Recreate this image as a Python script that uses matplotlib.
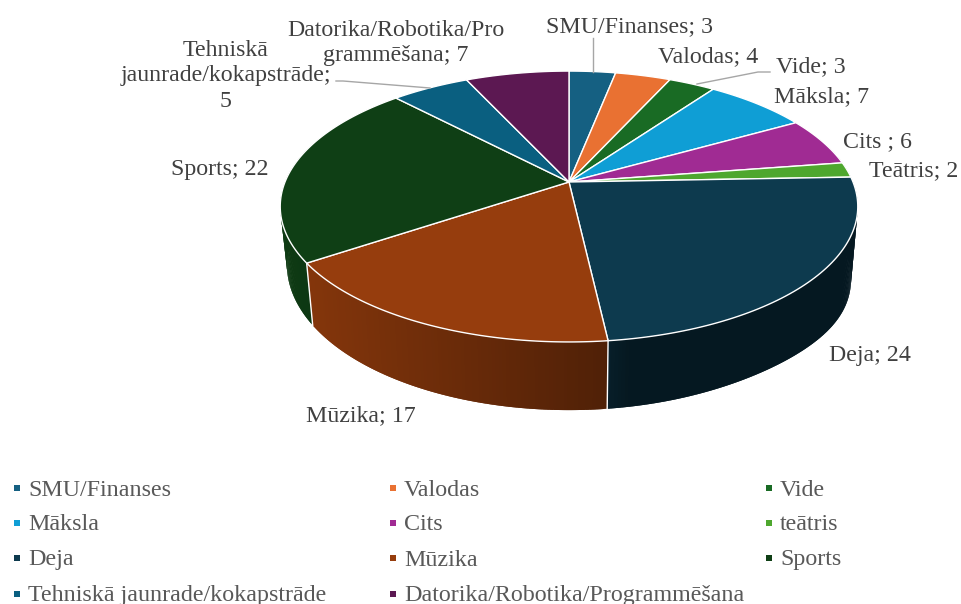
import numpy as np
import matplotlib
matplotlib.use('Agg')
import matplotlib.pyplot as plt

# share of each slice, labels show them rounded
categories = ['SMU/Finanses', 'Valodas', 'Vide', 'Māksla', 'Cits', 'Teātris',
              'Deja', 'Mūzika', 'Sports', 'Tehniskā jaunrade/kokapstrāde',
              'Datorika/Robotika/Programmēšana']
legend_names = ['SMU/Finanses', 'Valodas', 'Vide', 'Māksla', 'Cits', 'teātris',
                'Deja', 'Mūzika', 'Sports', 'Tehniskā jaunrade/kokapstrāde',
                'Datorika/Robotika/Programmēšana']
values = [3.1, 3.7, 3.1, 6.9, 5.8, 1.8, 23.8, 17.4, 22.3, 5.2, 6.9]
colors = ['#156082', '#E97132', '#196B24', '#0F9ED5', '#A02B93', '#4EA72E',
          '#0D3A4E', '#963D0D', '#0F3F15', '#0A5F80', '#5C1852']

plt.rcParams['font.family'] = ['Liberation Serif', 'DejaVu Serif']

fig = plt.figure(figsize=(9.62, 6.04), dpi=100)
ax = fig.add_axes([0, 0, 1, 1])
ax.set_xlim(0, 962)
ax.set_ylim(604, 0)
ax.axis('off')

cx, cy = 569, 182
a, b, k = 284, 131, 0.181


def top_xy(theta):
    # disc seen in perspective, theta clockwise from 12 o'clock
    px = np.sin(theta)
    py = np.cos(theta)
    w = 1 + k * py
    return cx + a * px / w, cy - b * py / w


def bottom_xy(theta):
    x, y = top_xy(theta)
    # lower rim bulges out a little more on the right side
    bulge = 14 * np.clip((x - cx) / 289, 0, 1) ** 6
    return cx + 0.977 * (x - cx), cy + 1.076 * (y - cy) + 56 + bulge


def shade(color, f):
    return tuple(np.array(matplotlib.colors.to_rgb(color)) * f)


edges = np.concatenate([[0], np.cumsum(values)]) / sum(values) * 2 * np.pi

# side wall, built from thin overlapping strips so the shading can change along it
for i in range(len(values)):
    t = np.linspace(edges[i], edges[i + 1], max(int(values[i] * 6), 3))
    for j in range(len(t) - 1):
        t0 = t[j]
        t1 = t[min(j + 2, len(t) - 1)]
        tm = (t[j] + t[j + 1]) / 2
        if np.cos(tm) > 0.25:
            continue
        x0, y0 = top_xy(t0)
        x1, y1 = top_xy(t1)
        x2, y2 = bottom_xy(t1)
        x3, y3 = bottom_xy(t0)
        f = np.interp(top_xy(tm)[0] - cx, [-289, -263, 40, 60, 289], [0.93, 0.88, 0.53, 0.42, 0.42])
        c = shade(colors[i], f)
        ax.fill([x0, x1, x2, x3], [y0, y1, y2, y3], color=c, lw=0, zorder=2)

# white seams on the visible wall edges
for e in edges:
    if np.cos(e) < -0.3:
        x0, y0 = top_xy(e)
        x1, y1 = bottom_xy(e)
        ax.plot([x0, x1], [y0, y1], color='white', lw=1.0, zorder=3)

# top face
for i in range(len(values)):
    t = np.linspace(edges[i], edges[i + 1], 80)
    x, y = top_xy(t)
    ax.fill(np.r_[cx, x], np.r_[cy, y], facecolor=colors[i], edgecolor='white',
            lw=1.0, joinstyle='round', zorder=4)

label_x = [630, 708, 811, 822, 877, 914, 870, 361, 220, 226, 396]
label_y = [27, 57, 67, 97, 142, 171, 355, 416, 170, 76, 43]
label_text = [f'{c}; {round(v)}' for c, v in zip(categories, values)]
label_text[4] = f'Cits ; {round(values[4])}'
label_text[9] = f'Tehniskā\njaunrade/kokapstrāde;\n{round(values[9])}'
label_text[10] = f'Datorika/Robotika/Pro\ngrammēšana; {round(values[10])}'
for x, y, s in zip(label_x, label_y, label_text):
    ax.text(x, y, s, ha='center', va='center', fontsize=17.2, color='#404040',
            linespacing=1.27, zorder=6)

# leader lines
ax.plot([593, 593], [38, 72], color='#a6a6a6', lw=1, zorder=5)
ax.plot([770, 758, 697], [72, 72, 84], color='#a6a6a6', lw=1, zorder=5)
ax.plot([336, 343, 430], [81, 81, 88], color='#a6a6a6', lw=1, zorder=5)

# legend, laid out by hand because the columns are evenly spaced
col_x = [17, 393, 769]
row_y = [488, 523, 558, 594]
for i, name in enumerate(legend_names):
    lx = col_x[i % 3]
    ly = row_y[i // 3]
    ax.plot([lx], [ly], marker='s', ms=5, color=colors[i], mew=0, zorder=5)
    ax.text(lx + 11, ly + 2, name, ha='left', va='center', fontsize=17.3, color='#595959')

plt.savefig('out.png', dpi=100)
